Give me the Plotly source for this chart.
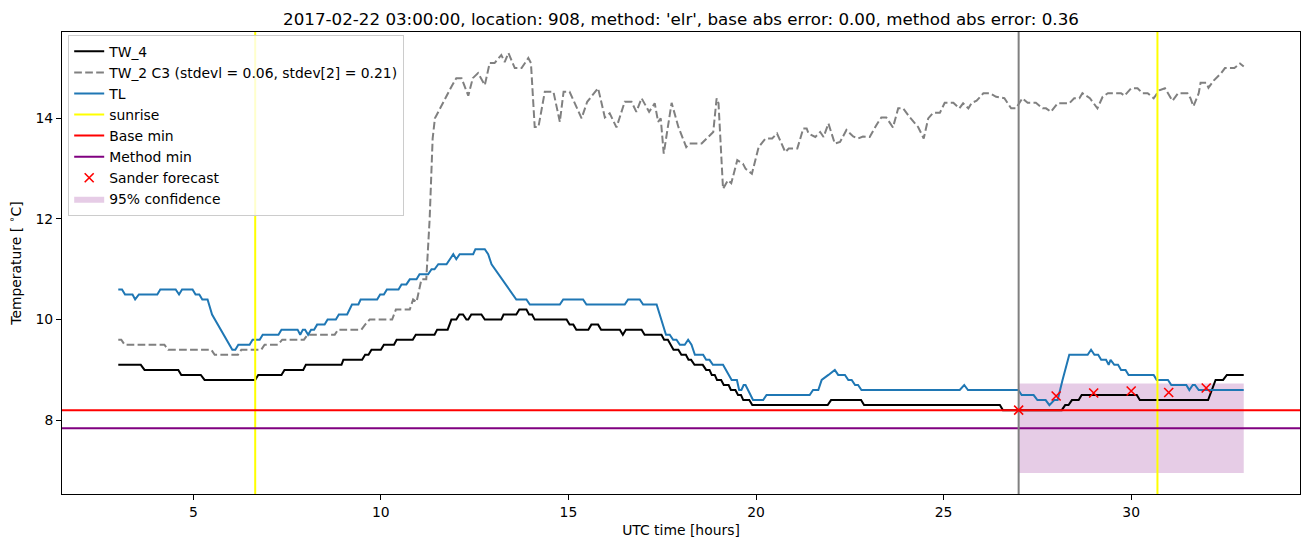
import plotly.graph_objects as go

# ---------------- data ----------------
tw4_hours = [3.0, 3.6, 3.7, 4.6, 4.68, 5.2, 5.3, 6.65, 6.73, 7.35, 7.43, 7.93, 8.0, 8.95, 9.0, 9.5,
             9.58, 9.67, 9.75, 10.0, 10.08, 10.35, 10.42, 10.85, 10.93, 11.43, 11.5, 11.78, 11.88,
             12.01, 12.09, 12.19, 12.28, 12.33, 12.41, 12.68, 12.77, 13.21, 13.27, 13.61, 13.69,
             13.88, 13.95, 14.03, 14.1, 14.95, 15.03, 15.13, 15.21, 15.53, 15.61, 15.79, 15.87,
             16.37, 16.45, 16.53, 16.95, 17.03, 17.48, 17.55, 17.65, 17.73, 17.8, 17.93, 18.01,
             18.13, 18.2, 18.27, 18.36, 18.58, 18.67, 18.76, 18.82, 18.9, 18.96, 19.07, 19.14,
             19.27, 19.33, 19.45, 19.52, 19.6, 19.66, 19.82, 19.9, 21.91, 22.0, 22.8, 22.88, 26.5,
             26.58, 28.15, 28.24, 28.33, 28.42, 28.6, 28.68, 30.15, 30.23, 32.05, 32.15, 32.25,
             32.45, 32.55, 33.0]
tw4_temp = [9.1, 9.1, 9.0, 9.0, 8.9, 8.9, 8.8, 8.8, 8.9, 8.9, 9.0, 9.0, 9.1, 9.1, 9.2, 9.2,
            9.3, 9.3, 9.4, 9.4, 9.5, 9.5, 9.6, 9.6, 9.7, 9.7, 9.8, 9.8, 10.0,
            10.0, 10.1, 10.1, 10.0, 10.0, 10.1, 10.1, 10.0, 10.0, 10.1, 10.1, 10.2,
            10.2, 10.1, 10.1, 10.0, 10.0, 9.9, 9.9, 9.8, 9.8, 9.9, 9.9, 9.8,
            9.8, 9.7, 9.8, 9.8, 9.7, 9.7, 9.6, 9.6, 9.5, 9.4, 9.4, 9.3,
            9.3, 9.2, 9.2, 9.1, 9.1, 9.0, 9.0, 8.9, 8.9, 8.8, 8.8, 8.7,
            8.7, 8.6, 8.6, 8.5, 8.5, 8.4, 8.4, 8.3, 8.3, 8.4, 8.4, 8.3, 8.3,
            8.2, 8.2, 8.3, 8.3, 8.4, 8.4, 8.5, 8.5, 8.4, 8.4, 8.6, 8.8,
            8.8, 8.9, 8.9]

tw2_hours = [3.0, 3.08, 3.17, 4.23, 4.33, 5.48, 5.57, 6.19, 6.28, 6.81, 6.9, 7.26, 7.37, 7.95,
             8.05, 8.77, 8.86, 9.48, 9.58, 9.7, 10.3, 10.4, 10.77, 10.86, 10.95, 11.08, 11.21,
             11.3, 11.38, 11.44, 11.88, 12.01, 12.15, 12.33, 12.45, 12.59, 12.77, 12.9, 13.03,
             13.21, 13.3, 13.4, 13.57, 13.75, 13.93, 14.0, 14.1, 14.2, 14.37, 14.6, 14.77, 14.87,
             15.03, 15.35, 15.5, 15.79, 15.97, 16.1, 16.28, 16.5, 16.68, 16.81, 16.95, 17.15,
             17.3, 17.39, 17.46, 17.54, 17.75, 17.93, 18.14, 18.23, 18.55, 18.72, 18.86, 18.95,
             19.0, 19.12, 19.25, 19.34, 19.5, 19.65, 19.72, 19.89, 20.07, 20.25, 20.43, 20.56,
             20.78, 20.87, 21.1, 21.26, 21.35, 21.4, 21.58, 21.71, 21.8, 21.93, 22.1, 22.24,
             22.41, 22.59, 22.72, 22.85, 23.03, 23.21, 23.34, 23.47, 23.65, 23.79, 23.92, 24.1,
             24.32, 24.47, 24.59, 24.72, 24.9, 25.03, 25.26, 25.42, 25.52, 25.66, 25.75, 25.88,
             26.06, 26.24, 26.4, 26.62, 26.8, 26.93, 27.1, 27.24, 27.46, 27.64, 27.73, 27.86,
             28.04, 28.35, 28.48, 28.62, 28.7, 28.9, 29.1, 29.24, 29.38, 29.73, 29.82, 30.0,
             30.17, 30.3, 30.44, 30.6, 30.75, 30.9, 31.1, 31.25, 31.5, 31.58, 31.66, 31.8,
             31.85, 32.0, 32.06, 32.2, 32.4, 32.5, 32.75, 32.9, 33.0]
tw2_temp = [9.6, 9.6, 9.5, 9.5, 9.4, 9.4, 9.3, 9.3, 9.4, 9.4, 9.5, 9.5, 9.6, 9.6,
            9.7, 9.7, 9.8, 9.8, 9.9, 10.0, 10.0, 10.2, 10.2, 10.4, 10.35, 10.8, 10.8,
            12.0, 13.6, 14.0, 14.63, 14.8, 14.8, 14.45, 14.8, 14.9, 14.66, 15.1, 15.1,
            15.26, 15.12, 15.3, 15.0, 15.0, 15.2, 15.1, 13.83, 13.83, 14.53, 14.53, 13.93, 14.53,
            14.53, 14.0, 14.33, 14.6, 14.02, 14.1, 13.82, 14.33, 14.33, 14.13, 14.4, 14.13,
            14.3, 13.93, 14.0, 13.3, 14.31, 13.83, 13.43, 13.5, 13.5, 13.63, 13.73, 14.4,
            14.3, 12.6, 12.77, 12.71, 13.17, 13.1, 13.0, 12.9, 13.43, 13.6, 13.6, 13.7,
            13.33, 13.4, 13.4, 13.8, 13.8, 13.7, 13.63, 13.73, 13.63, 13.9, 13.5, 13.53,
            13.77, 13.64, 13.6, 13.64, 13.63, 13.87, 14.02, 14.02, 13.82, 14.2, 14.2, 14.02,
            13.83, 13.6, 14.0, 14.11, 14.11, 14.31, 14.31, 14.2, 14.3, 14.2, 14.31, 14.35,
            14.5, 14.5, 14.43, 14.4, 14.2, 14.2, 14.4, 14.31, 14.31, 14.2, 14.2, 14.13,
            14.3, 14.3, 14.4, 14.4, 14.5, 14.4, 14.2, 14.43, 14.5, 14.5, 14.45, 14.6,
            14.6, 14.5, 14.5, 14.4, 14.56, 14.6, 14.35, 14.5, 14.5, 14.4, 14.24, 14.5,
            14.71, 14.71, 14.61, 14.75, 14.9, 15.0, 15.0, 15.09, 15.03]

tl_hours = [3.0, 3.1, 3.18, 3.38, 3.45, 3.55, 4.04, 4.12, 4.53, 4.62, 4.7, 4.98, 5.06, 5.16,
            5.24, 5.38, 5.5, 6.04, 6.12, 6.2, 6.5, 6.58, 6.77, 6.85, 7.27, 7.35, 7.78, 7.85,
            7.92, 7.98, 8.06, 8.14, 8.22, 8.3, 8.5, 8.58, 8.8, 8.88, 9.1, 9.17, 9.23, 9.4, 9.46,
            9.9, 9.98, 10.08, 10.16, 10.47, 10.55, 10.68, 10.77, 10.95, 11.03, 11.26, 11.35,
            11.43, 11.53, 11.75, 11.83, 11.93, 12.01, 12.1, 12.46, 12.52, 12.77, 12.86, 12.95,
            13.39, 13.52, 13.61, 13.88, 13.97, 14.77, 14.86, 15.39, 15.48, 16.5, 16.59, 16.9,
            16.99, 17.35, 17.6, 17.7, 17.79, 17.88, 17.97, 18.1, 18.19, 18.28, 18.37, 18.59,
            18.67, 18.76, 18.85, 19.12, 19.35, 19.49, 19.55, 19.61, 19.67, 19.72, 19.92, 20.19,
            20.28, 21.43, 21.52, 21.66, 21.75, 21.93, 22.1, 22.19, 22.37, 22.46, 22.55, 22.64,
            22.72, 22.81, 25.43, 25.55, 25.65, 26.99, 27.08, 27.4, 27.5, 27.72, 27.82, 27.95,
            28.04, 28.17, 28.35, 28.84, 28.93, 29.02, 29.12, 29.2, 29.33, 29.4, 29.45, 29.55,
            29.65, 29.73, 29.85, 29.93, 30.6, 30.68, 30.98, 31.07, 31.47, 31.55, 31.64, 31.7,
            31.8, 33.0]
tl_temp = [10.6, 10.6, 10.5, 10.5, 10.4, 10.5, 10.5, 10.6, 10.6, 10.5, 10.6, 10.6, 10.5, 10.5,
           10.4, 10.4, 10.1, 9.4, 9.4, 9.5, 9.5, 9.6, 9.6, 9.7, 9.7, 9.8, 9.8, 9.7,
           9.8, 9.8, 9.7, 9.8, 9.8, 9.9, 9.9, 10.0, 10.0, 10.1, 10.1, 10.2, 10.3, 10.3, 10.4,
           10.4, 10.5, 10.5, 10.6, 10.6, 10.7, 10.7, 10.8, 10.8, 10.9, 10.9, 11.0,
           11.0, 11.1, 11.1, 11.2, 11.3, 11.2, 11.3, 11.3, 11.4, 11.4, 11.3, 11.1,
           10.64, 10.5, 10.4, 10.4, 10.3, 10.3, 10.4, 10.4, 10.3, 10.3, 10.4, 10.4,
           10.3, 10.3, 9.7, 9.7, 9.6, 9.6, 9.5, 9.5, 9.6, 9.5, 9.3, 9.3,
           9.2, 9.2, 9.1, 9.1, 8.8, 8.8, 8.6, 8.6, 8.7, 8.7, 8.4, 8.4,
           8.5, 8.5, 8.6, 8.6, 8.8, 8.9, 9.0, 8.9, 8.9, 8.8, 8.8, 8.7,
           8.7, 8.6, 8.6, 8.7, 8.6, 8.6, 8.5, 8.5, 8.4, 8.4, 8.3, 8.4,
           8.4, 8.8, 9.3, 9.3, 9.4, 9.3, 9.3, 9.2, 9.2, 9.1, 9.2, 9.1,
           9.1, 9.0, 9.0, 8.9, 8.9, 8.8, 8.8, 8.7, 8.7, 8.6, 8.7, 8.7,
           8.6, 8.6]

sunrise_hours = [6.65, 30.7]
forecast_start = 27.0
base_min = 8.2
method_min = 7.84

forecast_hours = [27, 28, 29, 30, 31, 32]
forecast_temp = [8.2, 8.48, 8.54, 8.58, 8.55, 8.64]

conf_hours = [27.0, 33.0]
conf_low = [6.95, 6.95]
conf_high = [8.73, 8.73]

x_ticks = [5, 10, 15, 20, 25, 30]
y_ticks = [8, 10, 12, 14]
X_RANGE = [1.5, 34.5]
Y_RANGE = [6.5325, 15.7175]

title = ("2017-02-22 03:00:00, location: 908, method: 'elr', "
         "base abs error: 0.00, method abs error: 0.36")
tw2_label = "TW_2 C3 (stdevl = 0.06, stdev[2] = 0.21)"

FONT = "DejaVu Sans"
# ---------------------------------------------------------------------

fig = go.Figure()

# confidence band (drawn first so lines sit on top)
fig.add_trace(go.Scatter(x=conf_hours, y=conf_low, mode="lines", line=dict(width=0),
                         showlegend=False, hoverinfo="skip", legendgroup="g8"))
fig.add_trace(go.Scatter(x=conf_hours, y=conf_high, mode="lines", line=dict(width=0),
                         fill="tonexty", fillcolor="rgba(128,0,128,0.2)",
                         name="95% confidence", legendrank=8, legendgroup="g8"))

fig.add_trace(go.Scatter(x=tw4_hours, y=tw4_temp, mode="lines", name="TW_4",
                         line=dict(color="black", width=2), legendrank=1, legendgroup="g1"))
fig.add_trace(go.Scatter(x=tw2_hours, y=tw2_temp, mode="lines", name=tw2_label,
                         line=dict(color="#808080", width=2, dash="7.7px,3.3px"),
                         legendrank=2, legendgroup="g2"))
fig.add_trace(go.Scatter(x=tl_hours, y=tl_temp, mode="lines", name="TL",
                         line=dict(color="#1f77b4", width=2), legendrank=3, legendgroup="g3"))

# sunrise verticals
sx, sy = [], []
for h in sunrise_hours:
    sx += [h, h, None]
    sy += [Y_RANGE[0], Y_RANGE[1], None]
fig.add_trace(go.Scatter(x=sx, y=sy, mode="lines", name="sunrise",
                         line=dict(color="yellow", width=2), legendrank=4, legendgroup="g4"))

fig.add_trace(go.Scatter(x=X_RANGE, y=[base_min, base_min], mode="lines", name="Base min",
                         line=dict(color="red", width=2), legendrank=5, legendgroup="g5"))
fig.add_trace(go.Scatter(x=X_RANGE, y=[method_min, method_min], mode="lines", name="Method min",
                         line=dict(color="purple", width=2), legendrank=6, legendgroup="g6"))

# forecast start vertical (no legend)
fig.add_trace(go.Scatter(x=[forecast_start, forecast_start], y=Y_RANGE, mode="lines",
                         line=dict(color="#808080", width=2), showlegend=False, hoverinfo="skip"))

fig.add_trace(go.Scatter(x=forecast_hours, y=forecast_temp, mode="markers", name="Sander forecast",
                         marker=dict(symbol="x-thin", size=9, line=dict(color="red", width=1.6),
                                     color="red"),
                         legendrank=7, legendgroup="g7"))

axis_common = dict(showline=True, mirror=True, linecolor="black", linewidth=1,
                   ticks="outside", ticklen=5, tickwidth=1, tickcolor="black",
                   showgrid=False, zeroline=False,
                   tickfont=dict(family=FONT, size=13.9, color="black"))

fig.update_layout(
    width=1310, height=547,
    margin=dict(l=62, r=10, t=32, b=53),
    paper_bgcolor="white", plot_bgcolor="white",
    font=dict(family=FONT, size=13.9, color="black"),
    title=dict(text=title, x=0.5, xref="paper", xanchor="center",
               y=1, yref="paper", yanchor="bottom", pad=dict(b=7),
               font=dict(family=FONT, size=16.7, color="black")),
    xaxis=dict(range=X_RANGE, tickvals=x_ticks,
               title=dict(text="UTC time [hours]", standoff=6,
                          font=dict(family=FONT, size=13.9)), **axis_common),
    yaxis=dict(range=Y_RANGE, tickvals=y_ticks,
               title=dict(text="Temperature [ <sup>∘</sup>C]", standoff=10,
                          font=dict(family=FONT, size=13.9)), **axis_common),
    legend=dict(x=0.005, y=0.994, xanchor="left", yanchor="top",
                bgcolor="rgba(255,255,255,0.8)", bordercolor="#cccccc", borderwidth=1,
                font=dict(family=FONT, size=13.9, color="black"),
                traceorder="grouped", tracegroupgap=0, itemwidth=30),
    showlegend=True,
)

fig.write_html("out.html")
